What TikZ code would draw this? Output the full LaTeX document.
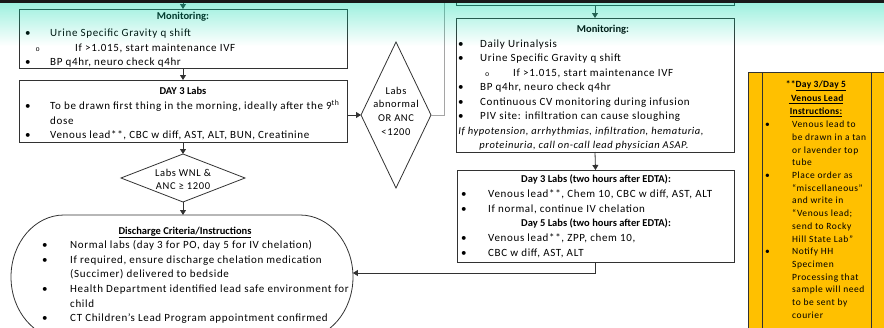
\documentclass[tikz,border=0pt]{standalone}
\usepackage{fontspec}
\setmainfont{Carlito}[LetterSpace=6]
\newfontfamily\hdfont{Carlito}
\newfontfamily\itfont{Carlito}[LetterSpace=5.5]
\newfontfamily\monof{Liberation Mono}
\usetikzlibrary{arrows.meta,shapes.geometric,fadings}

\definecolor{bandteal}{RGB}{0,217,170}
\definecolor{gold}{RGB}{255,192,0}
\definecolor{edge}{RGB}{50,50,50}
\definecolor{wire}{RGB}{165,165,165}

\tikzfading[name=bandfade, top color=transparent!0, middle color=transparent!15, bottom color=transparent!100]

\newcommand\bul[1]{\makebox[#1][l]{\textbullet}}
\newcommand\subb[1]{\makebox[#1][l]{{\monof\fontsize{7}{7}\selectfont o}}}

\tikzset{
  box/.style={draw=edge, line width=0.8pt, rectangle, inner sep=0pt, outer sep=0pt, anchor=north west},
  dia/.style={draw=edge, line width=0.8pt, diamond, inner sep=0pt, outer sep=0pt},
  tx/.style={anchor=base west, inner sep=0pt, font=\fontsize{11}{13}\selectfont},
  ctx/.style={anchor=base, inner sep=0pt, font=\fontsize{10.5}{12.6}\selectfont},
  itx/.style={anchor=base, inner sep=0pt, font=\fontsize{10.5}{12.6}\itfont\itshape},
  hd/.style={anchor=base, inner sep=0pt, font=\fontsize{10.5}{12.6}\hdfont\bfseries},
  ytx/.style={anchor=base west, inner sep=0pt, font=\fontsize{9.5}{11}\selectfont\addfontfeatures{LetterSpace=6}},
  yhd/.style={anchor=base, inner sep=0pt, font=\fontsize{9.5}{11}\selectfont\bfseries\addfontfeatures{LetterSpace=3}},
  flow/.style={draw=edge, line width=0.8pt, -{Triangle[width=6pt,length=5pt]}},
}

\begin{document}
\begin{tikzpicture}[x=1pt,y=-1pt]
\useasboundingbox (0,0) rectangle (884,327);

% ---------- left column ----------
\coordinate (topin) at (183,0);
\node[box, minimum width=328pt, minimum height=59pt] (m1box) at (19,9) {};
\node[hd] (m1t) at (183,19) {Monitoring:};
\node[tx] (m1a) at (25,36.5) {\bul{25pt}Urine Specific Gravity q shift};
\node[tx] (m1b) at (35.5,51) {\subb{39.5pt}If >1.015, start maintenance IVF};
\node[tx] (m1c) at (25,65) {\bul{25pt}BP q4hr, neuro check q4hr};

\node[box, minimum width=328pt, minimum height=62pt] (d3box) at (19,80) {};
\node[hd] (d3t) at (183,94) {DAY 3 Labs};
\node[tx] (d3a) at (25,109.5) {\bul{25pt}To be drawn first thing in the morning, ideally after the 9\textsuperscript{th}};
\node[tx] (d3b) at (50,124) {dose};
\node[tx] (d3c) at (25,138.5) {\bul{25pt}Venous lead**, CBC w diff, AST, ALT, BUN, Creatinine};

% decision: labs normal
\node[dia, minimum width=124pt, minimum height=48pt] (d2) at (183,178) {};
\node[ctx] (d2a) at (183,176) {Labs WNL \&};
\node[ctx] (d2b) at (183,189.5) {ANC ≥ 1200};

% discharge terminator
\coordinate (dcT) at (183,215);
\coordinate (dcR) at (352.9,273);
\draw[edge, line width=0.8pt] (64,215) -- (300,215)
  arc[start angle=-90, end angle=90, x radius=53, y radius=62] -- (64,339)
  arc[start angle=90, end angle=270, x radius=53, y radius=62] -- cycle;
\node[hd] (dct) at (185,234) {\underline{Discharge Criteria/Instructions}};
\node[tx] (dca) at (42,248) {\bul{28pt}Normal labs (day 3 for PO, day 5 for IV chelation)};
\node[tx] (dcb) at (42,263) {\bul{28pt}If required, ensure discharge chelation medication};
\node[tx] (dcc) at (70,277.5) {(Succimer) delivered to bedside};
\node[tx] (dcd) at (42,292) {\bul{28pt}Health Department identified lead safe environment for};
\node[tx] (dce) at (70,307) {child};
\node[tx] (dcf) at (42,321.5) {\bul{28pt}CT Children’s Lead Program appointment confirmed};

% decision: labs abnormal
\node[dia, minimum width=70pt, minimum height=146pt] (d1) at (396,115) {};
\node[ctx] (d1a) at (396,94) {Labs};
\node[ctx] (d1b) at (396,107.5) {abnormal};
\node[ctx] (d1c) at (396,121) {OR ANC};
\node[ctx] (d1d) at (396,135) {<1200};
\coordinate (upout) at (444,0);

% ---------- right column ----------
\node[box, minimum width=278pt, minimum height=15pt] (m0box) at (456,-10) {};

\node[box, minimum width=278pt, minimum height=134pt] (m2box) at (456,18) {};
\node[hd] (m2t) at (603,32) {Monitoring:};
\node[tx] (m2a) at (458,47) {\bul{22pt}Daily Urinalysis};
\node[tx] (m2b) at (458,61.5) {\bul{22pt}Urine Specific Gravity q shift};
\node[tx] (m2c) at (485,76) {\subb{28pt}If >1.015, start maintenance IVF};
\node[tx] (m2d) at (458,90.5) {\bul{22pt}BP q4hr, neuro check q4hr};
\node[tx] (m2e) at (458,105) {\bul{22pt}Continuous CV monitoring during infusion};
\node[tx] (m2f) at (458,119.5) {\bul{22pt}PIV site: infiltration can cause sloughing};
\node[itx] (m2g) at (581,134) {If hypotension, arrhythmias, infiltration, hematuria,};
\node[itx] (m2h) at (584,148.5) {proteinuria, call on-call lead physician ASAP.};

\node[box, minimum width=277pt, minimum height=92pt] (l3box) at (457,170) {};
\node[hd] (l3t) at (596,182.5) {Day 3 Labs (two hours after EDTA):};
\node[tx] (l3a) at (461,197) {\bul{27pt}Venous lead**, Chem 10, CBC w diff, AST, ALT};
\node[tx] (l3b) at (461,212) {\bul{27pt}If normal, continue IV chelation};
\node[hd] (l3u) at (596,226.5) {Day 5 Labs (two hours after EDTA):};
\node[tx] (l3c) at (461,241.5) {\bul{27pt}Venous lead**, ZPP, chem 10,};
\node[tx] (l3d) at (461,256) {\bul{27pt}CBC w diff, AST, ALT};

% ---------- venous lead note ----------
\node[box, fill=gold, minimum width=142pt, minimum height=270pt] (ybox) at (748,72) {};
\draw[edge, line width=0.8pt] (762,72) -- (762,345);
\draw[edge, line width=0.8pt] (871,72) -- (871,345);
\node[yhd] (yt1) at (816,87.3) {**\underline{Day 3/Day 5}};
\node[yhd] (yt2) at (816,101.7) {\underline{\ Venous Lead}};
\node[yhd] (yt3) at (816,114.7) {\underline{Instructions:}};
\node[ytx] (ya) at (765,127.7) {\bul{27pt}Venous lead to};
\node[ytx] (yb) at (792,140.4) {be drawn in a tan};
\node[ytx] (yc) at (792,153.1) {or lavender top};
\node[ytx] (yd) at (792,165.8) {tube};
\node[ytx] (ye) at (765,178.5) {\bul{27pt}Place order as};
\node[ytx] (yf) at (792,191.2) {“miscellaneous”};
\node[ytx] (yg) at (792,203.9) {and write in};
\node[ytx] (yh) at (792,216.6) {“Venous lead;};
\node[ytx] (yi) at (792,229.3) {send to Rocky};
\node[ytx] (yj) at (792,242) {Hill State Lab”};
\node[ytx] (yk) at (765,254.7) {\bul{27pt}Notify HH};
\node[ytx] (yl) at (792,267.4) {Specimen};
\node[ytx] (ym) at (792,280.1) {Processing that};
\node[ytx] (yn) at (792,292.8) {sample will need};
\node[ytx] (yo) at (792,305.5) {to be sent by};
\node[ytx] (yp) at (792,318.2) {courier};

% ---------- connectors ----------
\draw[flow] (topin) -- (m1box.north);
\draw[flow] (m1box.south) -- (d3box.north);
\draw[flow] (d3box.south) -- (d2.north);
\draw[flow] (d2.south) -- (dcT);
\draw[flow] (d1.west -| d3box.east) -- (d1.west);
\draw[wire, line width=0.8pt] (d1.east) -| (upout);
\draw[flow] (m0box.south) -- (m2box.north);
\draw[flow] (m2box.south) -- (l3box.north);
\draw[flow] (l3box.south) |- (dcR);

% header band and rule
\fill[bandteal, fill opacity=0.39, path fading=bandfade] (-1,2) rectangle (885,46);
\fill[black!90] (-1,-1) rectangle (885,2.5);
\end{tikzpicture}
\end{document}
